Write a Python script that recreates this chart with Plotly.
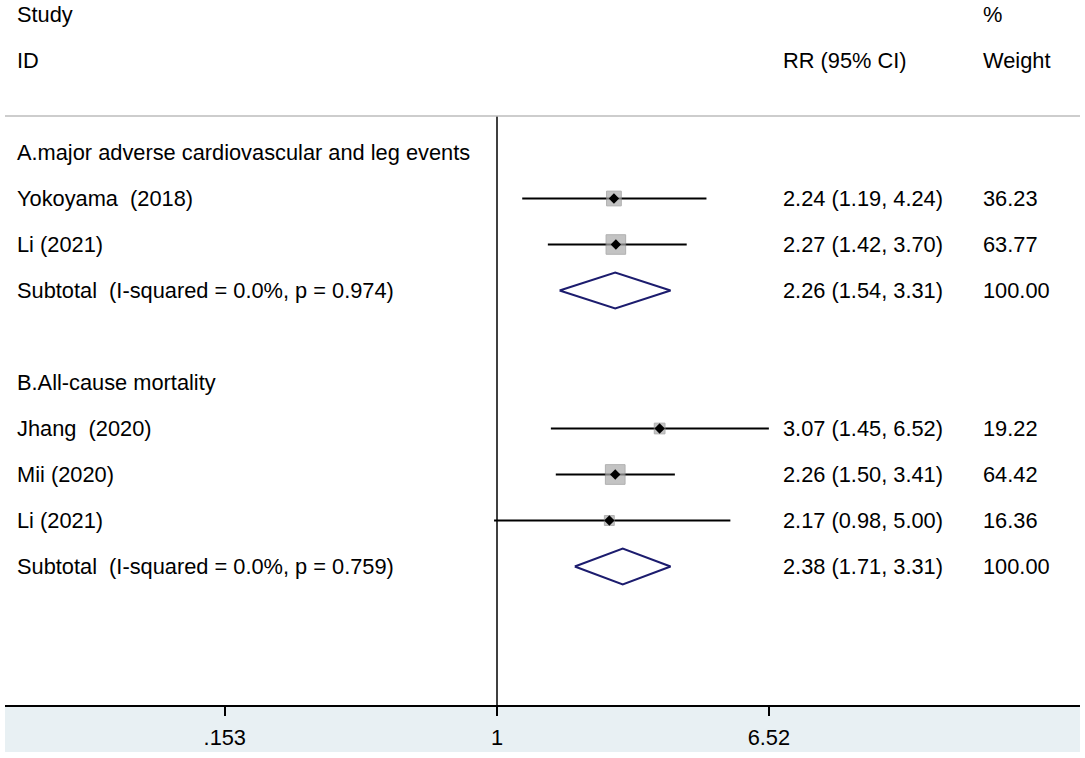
import math
import plotly.graph_objects as go

# ---------------- data ----------------
group_labels = ["A.major adverse cardiovascular and leg events", "B.All-cause mortality"]
study_labels = ["Yokoyama\u00a0 (2018)", "Li (2021)", "Jhang\u00a0 (2020)", "Mii (2020)", "Li (2021)"]
study_group = [0, 0, 1, 1, 1]
rr = [2.24, 2.27, 3.07, 2.26, 2.17]
rr_lo = [1.19, 1.42, 1.45, 1.50, 0.98]
rr_hi = [4.24, 3.70, 6.52, 3.41, 5.00]
weights = [36.23, 63.77, 19.22, 64.42, 16.36]

sub_labels = ["Subtotal\u00a0 (I-squared = 0.0%, p = 0.974)", "Subtotal\u00a0 (I-squared = 0.0%, p = 0.759)"]
sub_rr = [2.26, 2.38]
sub_lo = [1.54, 1.71]
sub_hi = [3.31, 3.31]
sub_w = [100.00, 100.00]

tick_vals = [0.153, 1, 6.52]
tick_text = [".153", "1", "6.52"]

# ---------------- layout of rows ----------------
# rows: 0 Study/%, 1 ID/RR/Weight, 3 group A, 4-5 studies, 6 subtotal, 8 group B, 9-11 studies, 12 subtotal
group_rows = [3, 8]
study_rows = [4, 5, 9, 10, 11]
sub_rows = [6, 12]

FONT = "Liberation Sans, Arial, sans-serif"
FS = 21.8
W, H = 1085, 758
ML, MR, MT, MB = 5, 5, 0, 53
plot_w = W - ML - MR
plot_h = H - MT - MB
ROW_PX = 46.0
ROW0_PX = 14.5
PX_PER_DEC = 145.0 * math.log(10)
NULL_PX = 497.0

x_left = (ML - NULL_PX) / PX_PER_DEC
x_right = (W - MR - NULL_PX) / PX_PER_DEC
y_bottom = (plot_h - ROW0_PX) / ROW_PX
y_top = (0 - ROW0_PX) / ROW_PX
sep_row = (116 - ROW0_PX) / ROW_PX


def xp(px):
    return (px - ML) / plot_w


fig = go.Figure()

# null line
fig.add_trace(go.Scatter(x=[1, 1], y=[sep_row, y_bottom], mode="lines",
                         line=dict(color="black", width=1.5), hoverinfo="skip"))

# CI lines
for i in range(len(rr)):
    fig.add_trace(go.Scatter(x=[rr_lo[i], rr_hi[i]], y=[study_rows[i], study_rows[i]],
                             mode="lines", line=dict(color="black", width=2), hoverinfo="skip"))

# weight squares
fig.add_trace(go.Scatter(x=rr, y=study_rows, mode="markers",
                         marker=dict(symbol="square", size=[2.45 * math.sqrt(w) for w in weights],
                                     color="#ABABAB", line=dict(color="#909090", width=1)),
                         hoverinfo="skip"))
# point estimates
fig.add_trace(go.Scatter(x=rr, y=study_rows, mode="markers",
                         marker=dict(symbol="diamond", size=8, color="black"),
                         hoverinfo="skip"))

# subtotal diamonds
hh = 18 / ROW_PX
for j in range(len(sub_rr)):
    r = sub_rows[j]
    fig.add_trace(go.Scatter(x=[sub_lo[j], sub_rr[j], sub_hi[j], sub_rr[j], sub_lo[j]],
                             y=[r, r - hh, r, r + hh, r], mode="lines",
                             line=dict(color="#1C1C6E", width=2), hoverinfo="skip"))

ann = []


def add_text(txt, px, row):
    ann.append(dict(x=xp(px), xref="paper", y=row, yref="y", text=txt, showarrow=False,
                    xanchor="left", yanchor="middle",
                    font=dict(family=FONT, size=FS, color="black")))


LX, RX, WX = 15, 781, 981
add_text("Study", LX, 0)
add_text("ID", LX, 1)
add_text("RR (95% CI)", RX, 1)
add_text("%", WX, 0)
add_text("Weight", WX, 1)
for g, r in zip(group_labels, group_rows):
    add_text(g, LX, r)
for i in range(len(rr)):
    add_text(study_labels[i], LX, study_rows[i])
    add_text(f"{rr[i]:.2f} ({rr_lo[i]:.2f}, {rr_hi[i]:.2f})", RX, study_rows[i])
    add_text(f"{weights[i]:.2f}", WX, study_rows[i])
for j in range(len(sub_rr)):
    add_text(sub_labels[j], LX, sub_rows[j])
    add_text(f"{sub_rr[j]:.2f} ({sub_lo[j]:.2f}, {sub_hi[j]:.2f})", RX, sub_rows[j])
    add_text(f"{sub_w[j]:.2f}", WX, sub_rows[j])

shapes = [
    dict(type="line", xref="paper", yref="y", x0=0, x1=1, y0=sep_row, y1=sep_row,
         line=dict(color="#BDBDBD", width=1.5)),
    dict(type="rect", xref="paper", yref="paper", x0=0, x1=1, y0=-(752 - 705) / plot_h, y1=0,
         fillcolor="#E8F0F3", line=dict(width=0), layer="below"),
]

fig.update_layout(
    width=W, height=H,
    margin=dict(l=ML, r=MR, t=MT, b=MB, pad=0),
    paper_bgcolor="white", plot_bgcolor="rgba(0,0,0,0)",
    showlegend=False, hovermode=False,
    annotations=ann, shapes=shapes,
    xaxis=dict(type="log", range=[x_left, x_right], tickvals=tick_vals, ticktext=tick_text,
               showgrid=False, zeroline=False, showline=True, linecolor="black", linewidth=2,
               ticks="outside", ticklen=9, tickwidth=1.5, tickcolor="black",
               ticklabelstandoff=3,
               tickfont=dict(family=FONT, size=FS, color="black")),
    yaxis=dict(range=[y_bottom, y_top], showgrid=False, zeroline=False, showline=False,
               showticklabels=False, ticks=""),
)

fig.write_html("out.html", config={"displayModeBar": False},
               post_script="document.body.style.margin='0';document.body.style.overflow='hidden';")
